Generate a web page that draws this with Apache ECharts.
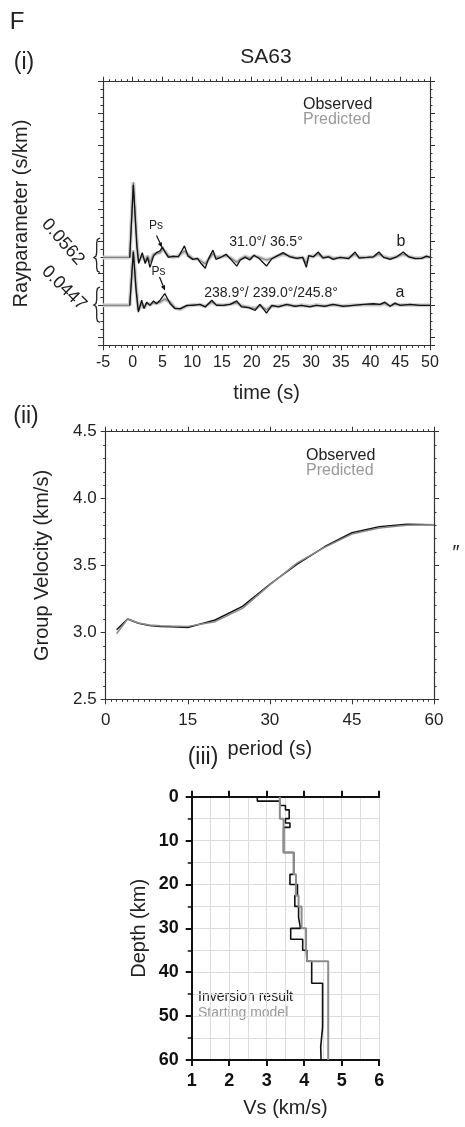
<!DOCTYPE html>
<html>
<head>
<meta charset="utf-8">
<script src="https://cdn.jsdelivr.net/npm/echarts@6/dist/echarts.min.js"></script>
<style>
  html, body { margin: 0; padding: 0; background: #fff; }
  #chart { width: 465px; height: 1127px; }
</style>
</head>
<body>
<div id="chart"></div>
<script>
// ---- (i) receiver functions, amplitude in axis units (1 unit = one major tick)
const tB = [-5, -0.5, 0.1, 0.7, 1.0, 1.6, 2.1, 2.5, 2.9, 3.5, 4.0, 4.6, 5.0, 5.4, 6.0, 6.8, 7.7, 8.7, 9.3, 10.1, 10.9, 11.5, 12.2, 12.7, 13.5, 14.0, 14.8, 15.7, 16.5, 17.5, 18.1, 18.9, 19.7, 20.4, 21.3, 22.5, 23.4, 24.2, 25.3, 26.4, 27.6, 28.6, 29.2, 29.6, 30.4, 31.2, 32.0, 32.9, 33.7, 34.9, 36.3, 37.4, 38.1, 39.4, 40.5, 41.4, 42.2, 43.3, 44.4, 45.5, 46.4, 47.5, 48.6, 49.4, 50];
const obsB = [null, 0, 2.27, 0.33, -0.19, 0.15, -0.19, 0, -0.31, 0.04, 0.15, 0.21, 0.33, 0.18, 0, 0.04, 0.02, 0.36, 0.04, -0.06, -0.03, -0.19, -0.34, -0.06, 0.23, -0.06, 0, 0.1, -0.06, -0.27, -0.08, 0, -0.08, 0.07, -0.04, -0.27, -0.04, 0.04, 0.15, 0.02, -0.03, 0, -0.31, 0.06, 0.02, 0.17, -0.02, 0.02, -0.06, 0, -0.04, 0.17, -0.02, 0, 0.02, 0.17, 0, -0.06, 0.02, 0.17, 0.02, -0.04, -0.03, 0.04, 0];
const predB = [0, 0, 2.35, 0.45, -0.12, 0.05, -0.1, 0.05, -0.15, 0.1, 0.12, 0.15, 0.25, 0.2, 0.05, 0, 0.05, 0.2, 0.08, -0.04, -0.05, -0.12, -0.2, -0.08, 0.12, 0, 0.02, 0.06, -0.02, -0.15, -0.05, 0.03, -0.03, 0.05, 0, -0.08, -0.03, 0.03, 0.1, 0.04, -0.02, 0, -0.18, 0.04, 0.03, 0.1, 0, 0.03, -0.03, 0, -0.02, 0.1, 0, 0, 0.02, 0.1, 0.02, -0.03, 0.02, 0.1, 0.03, -0.02, -0.02, 0.02, 0.02];

const tA = [-5, -0.5, 0.1, 0.56, 0.95, 1.5, 1.9, 2.35, 2.9, 3.5, 4.0, 4.6, 5.4, 6.3, 7.1, 8.0, 9.1, 10.2, 11.3, 12.2, 13.3, 14.1, 15.2, 16.4, 17.5, 18.3, 19.5, 20.6, 21.4, 22.5, 23.4, 24.5, 25.9, 27.3, 28.4, 29.8, 30.9, 32.3, 33.7, 35.4, 37.1, 38.8, 40.5, 41.6, 42.4, 43.3, 44.1, 45.0, 46.6, 48.3, 50];
const obsA = [null, 0, 1.67, 0.47, -0.21, 0.16, -0.1, 0.1, 0, 0.14, 0.05, 0.16, 0.37, 0.05, -0.1, -0.1, 0, 0, 0.03, -0.05, 0.16, 0, 0, 0.03, 0.14, -0.05, -0.07, -0.16, 0.03, -0.24, 0, -0.05, 0.03, -0.03, 0, -0.05, 0, -0.03, 0.03, -0.03, 0, 0.03, 0.05, 0.03, 0.1, -0.03, 0.07, 0, 0.03, 0, 0];
const predA = [0, 0, 1.72, 0.6, -0.15, 0.05, -0.08, 0.06, 0.02, 0.08, 0.06, 0.1, 0.2, 0.1, -0.08, -0.12, -0.02, 0.02, 0.02, -0.03, 0.1, 0.02, 0, 0.04, 0.08, -0.02, -0.06, -0.1, 0, -0.14, -0.02, -0.03, 0.02, -0.02, 0, -0.03, 0.01, -0.02, 0.02, -0.02, 0, 0.02, 0.03, 0.02, 0.06, -0.02, 0.04, 0.01, 0.02, 0, 0];
const baseB = 5.5, baseA = 7;   // trace baselines on the (inverted) y axis

// ---- (ii) group velocity dispersion
const periods = [2, 4, 6, 8, 10, 12, 15, 20, 25, 30, 35, 40, 45, 50, 55, 60];
const obsVel = [3.02, 3.10, 3.068, 3.052, 3.045, 3.042, 3.036, 3.093, 3.195, 3.36, 3.51, 3.64, 3.745, 3.79, 3.808, 3.805];
const predVel = [2.99, 3.10, 3.07, 3.055, 3.05, 3.047, 3.045, 3.08, 3.18, 3.355, 3.52, 3.635, 3.735, 3.78, 3.80, 3.805];

// ---- (iii) Vs models: layer boundaries (km) and layer velocities (km/s)
const invDepth = [0, 1, 2, 3, 5, 6, 7, 12.7, 17.7, 20, 22.5, 25, 27.5, 30, 32.5, 35, 37.5, 42.5, 52.5, 57, 60];
const invVs = [2.75, 3.35, 3.5, 3.6, 3.5, 3.62, 3.45, 3.72, 3.62, 3.82, 3.75, 3.85, 3.9, 3.64, 3.96, 4.07, 4.2, 4.49, 4.44, 4.45];
const startDepth = [0, 5, 12.7, 17.7, 20, 22.5, 25, 30, 35, 37.5, 60];
const startVs = [3.35, 3.45, 3.72, 3.78, 3.78, 3.85, 3.93, 4.05, 4.08, 4.64];

const FONT = '"Liberation Sans", Arial, sans-serif';

function trace(times, amps, base) {
  const out = [];
  times.forEach((t, i) => { if (amps[i] != null) out.push([t, base - amps[i]]); });
  return out;
}
function steps(depth, vs) {
  const out = [];
  vs.forEach((v, i) => { out.push([v, depth[i]]); out.push([v, depth[i + 1]]); });
  return out;
}

function boxAxis(extra) {
  return Object.assign({
    axisLine: { show: true, onZero: false, lineStyle: { color: '#333', width: 1.2 } },
    axisTick: { show: true, inside: false, length: 5, lineStyle: { color: '#333', width: 1 } },
    minorTick: { show: true, length: 2.5, lineStyle: { color: '#333', width: 1 } },
    splitLine: { show: false },
    axisLabel: { show: false },
  }, extra);
}

let chart = echarts.init(document.getElementById('chart'));

let option = {
  animation: false,
  backgroundColor: '#fff',
  textStyle: { fontFamily: FONT },
  grid: [
    { left: 103, top: 81.7, width: 327, height: 263.6, outerBoundsMode: 'none' },
    { left: 105.7, top: 431.7, width: 328.3, height: 267.6, outerBoundsMode: 'none' },
    { left: 191.7, top: 796.7, width: 187.5, height: 263.3, outerBoundsMode: 'none' },
  ],
  xAxis: [
    boxAxis({
      gridIndex: 0, type: 'value', position: 'bottom', min: -5, max: 50, interval: 5,
      minorTick: { show: true, splitNumber: 5, length: 2.5, lineStyle: { color: '#333' } },
      axisLabel: { show: true, fontSize: 16, color: '#222', margin: 9, fontFamily: FONT },
      name: 'time (s)', nameLocation: 'middle', nameGap: 38,
      nameTextStyle: { fontSize: 20, color: '#222', fontFamily: FONT },
    }),
    boxAxis({
      gridIndex: 0, type: 'value', position: 'top', min: -5, max: 50, interval: 5,
      minorTick: { show: true, splitNumber: 5, length: 2.5, lineStyle: { color: '#333' } },
    }),
    boxAxis({
      gridIndex: 1, type: 'value', position: 'bottom', min: 0, max: 60, interval: 15,
      minorTick: { show: true, splitNumber: 15, length: 2.5, lineStyle: { color: '#333' } },
      axisLabel: { show: true, fontSize: 17, color: '#222', margin: 13, fontFamily: FONT },
      name: 'period (s)', nameLocation: 'middle', nameGap: 40,
      nameTextStyle: { fontSize: 20, color: '#222', fontFamily: FONT },
    }),
    boxAxis({
      gridIndex: 1, type: 'value', position: 'top', min: 0, max: 60, interval: 15,
      minorTick: { show: true, splitNumber: 15, length: 2.5, lineStyle: { color: '#333' } },
    }),
    {
      gridIndex: 2, type: 'value', position: 'bottom', min: 1, max: 6, interval: 1,
      axisLine: { show: true, onZero: false, lineStyle: { color: '#111', width: 2 } },
      axisTick: { show: true, inside: false, length: 6, lineStyle: { color: '#111', width: 2 } },
      minorTick: { show: false, splitNumber: 2 },
      splitLine: { show: true, lineStyle: { color: '#dcdcdc', width: 1 } },
      minorSplitLine: { show: true, lineStyle: { color: '#dcdcdc', width: 1 } },
      axisLabel: { show: true, fontSize: 18, fontWeight: 'bold', color: '#111', margin: 12, fontFamily: FONT },
      name: 'Vs (km/s)', nameLocation: 'middle', nameGap: 38,
      nameTextStyle: { fontSize: 20, color: '#222', fontFamily: FONT },
    },
    {
      gridIndex: 2, type: 'value', position: 'top', min: 1, max: 6, interval: 1,
      axisLine: { show: true, onZero: false, lineStyle: { color: '#111', width: 2 } },
      axisTick: { show: true, inside: false, length: 6, lineStyle: { color: '#111', width: 2 } },
      axisLabel: { show: false },
      splitLine: { show: false },
    },
  ],
  yAxis: [
    boxAxis({
      gridIndex: 0, type: 'value', position: 'left', inverse: true, min: 0, max: 8.25, interval: 1,
      minorTick: { show: true, splitNumber: 4, length: 2.5, lineStyle: { color: '#333' } },
      name: 'Rayparameter (s/km)', nameLocation: 'middle', nameGap: 72,
      nameTextStyle: { fontSize: 20, color: '#222', fontFamily: FONT },
    }),
    boxAxis({
      gridIndex: 0, type: 'value', position: 'right', inverse: true, min: 0, max: 8.25, interval: 1,
      minorTick: { show: true, splitNumber: 4, length: 2.5, lineStyle: { color: '#333' } },
    }),
    boxAxis({
      gridIndex: 1, type: 'value', position: 'left', min: 2.5, max: 4.5, interval: 0.5,
      minorTick: { show: true, splitNumber: 5, length: 2.5, lineStyle: { color: '#333' } },
      axisLabel: { show: true, fontSize: 17, color: '#222', margin: 9, fontFamily: FONT,
        formatter: (v) => v.toFixed(1) },
      name: 'Group Velocity (km/s)', nameLocation: 'middle', nameGap: 53,
      nameTextStyle: { fontSize: 20, color: '#222', fontFamily: FONT },
    }),
    boxAxis({
      gridIndex: 1, type: 'value', position: 'right', min: 2.5, max: 4.5, interval: 0.5,
      minorTick: { show: true, splitNumber: 5, length: 2.5, lineStyle: { color: '#333' } },
    }),
    {
      gridIndex: 2, type: 'value', position: 'left', inverse: true, min: 0, max: 60, interval: 10,
      axisLine: { show: true, onZero: false, lineStyle: { color: '#111', width: 2 } },
      axisTick: { show: true, inside: false, length: 6, lineStyle: { color: '#111', width: 2 } },
      minorTick: { show: true, splitNumber: 2, length: 4, lineStyle: { color: '#111', width: 1.5 } },
      splitLine: { show: true, lineStyle: { color: '#dcdcdc', width: 1 } },
      minorSplitLine: { show: true, lineStyle: { color: '#dcdcdc', width: 1 } },
      axisLabel: { show: true, fontSize: 18, fontWeight: 'bold', color: '#111', margin: 13, fontFamily: FONT },
      name: 'Depth (km)', nameLocation: 'middle', nameGap: 42,
      nameTextStyle: { fontSize: 20, color: '#222', fontFamily: FONT },
    },
  ],
  series: [
    // uncertainty band of predicted traces
    { type: 'line', xAxisIndex: 0, yAxisIndex: 0, showSymbol: false, silent: true,
      data: trace(tB, predB, baseB), lineStyle: { color: '#d2d2d2', width: 4 } },
    { type: 'line', xAxisIndex: 0, yAxisIndex: 0, showSymbol: false, silent: true,
      data: trace(tA, predA, baseA), lineStyle: { color: '#d2d2d2', width: 4 } },
    { name: 'Predicted', type: 'line', xAxisIndex: 0, yAxisIndex: 0, showSymbol: false,
      data: trace(tB, predB, baseB), lineStyle: { color: '#858585', width: 1.3 } },
    { name: 'Predicted', type: 'line', xAxisIndex: 0, yAxisIndex: 0, showSymbol: false,
      data: trace(tA, predA, baseA), lineStyle: { color: '#858585', width: 1.3 } },
    { name: 'Observed', type: 'line', xAxisIndex: 0, yAxisIndex: 0, showSymbol: false,
      data: trace(tB, obsB, baseB), lineStyle: { color: '#111', width: 1.3 } },
    { name: 'Observed', type: 'line', xAxisIndex: 0, yAxisIndex: 0, showSymbol: false,
      data: trace(tA, obsA, baseA), lineStyle: { color: '#111', width: 1.3 } },

    { name: 'Observed', type: 'line', xAxisIndex: 2, yAxisIndex: 2, showSymbol: false,
      data: periods.map((p, i) => [p, obsVel[i]]), lineStyle: { color: '#111', width: 1.5 } },
    { name: 'Predicted', type: 'line', xAxisIndex: 2, yAxisIndex: 2, showSymbol: false,
      data: periods.map((p, i) => [p, predVel[i]]), lineStyle: { color: '#8a8a8a', width: 1.5 } },

    { name: 'Inversion result', type: 'line', xAxisIndex: 4, yAxisIndex: 4, showSymbol: false,
      data: steps(invDepth, invVs), lineStyle: { color: '#111', width: 1.6 } },
    { name: 'Starting model', type: 'line', xAxisIndex: 4, yAxisIndex: 4, showSymbol: false,
      data: steps(startDepth, startVs), lineStyle: { color: '#8c8c8c', width: 2 } },
  ],
  graphic: {
    elements: [
      { type: 'text', style: { x: 17, y: 22, text: 'F', font: '24px ' + FONT, fill: '#222', textAlign: 'center', textVerticalAlign: 'middle' } },
      { type: 'text', style: { x: 24, y: 63, text: '(i)', font: '23px ' + FONT, fill: '#222', textAlign: 'center', textVerticalAlign: 'middle' } },
      { type: 'text', style: { x: 266, y: 57, text: 'SA63', font: '21px ' + FONT, fill: '#222', textAlign: 'center', textVerticalAlign: 'middle' } },
      { type: 'text', style: { x: 303, y: 105, text: 'Observed', font: '16px ' + FONT, fill: '#222', textAlign: 'left', textVerticalAlign: 'middle' } },
      { type: 'text', style: { x: 303, y: 120, text: 'Predicted', font: '16px ' + FONT, fill: '#999', textAlign: 'left', textVerticalAlign: 'middle' } },
      { type: 'text', style: { x: 266, y: 242, text: '31.0°/ 36.5°', font: '14px ' + FONT, fill: '#222', textAlign: 'center', textVerticalAlign: 'middle' } },
      { type: 'text', style: { x: 271, y: 293, text: '238.9°/ 239.0°/245.8°', font: '14px ' + FONT, fill: '#222', textAlign: 'center', textVerticalAlign: 'middle' } },
      { type: 'text', style: { x: 401, y: 242, text: 'b', font: '16px ' + FONT, fill: '#222', textAlign: 'center', textVerticalAlign: 'middle' } },
      { type: 'text', style: { x: 400, y: 293, text: 'a', font: '16px ' + FONT, fill: '#222', textAlign: 'center', textVerticalAlign: 'middle' } },
      { type: 'text', style: { x: 156, y: 226, text: 'Ps', font: '12px ' + FONT, fill: '#222', textAlign: 'center', textVerticalAlign: 'middle' } },
      { type: 'text', style: { x: 158.5, y: 271.5, text: 'Ps', font: '12px ' + FONT, fill: '#222', textAlign: 'center', textVerticalAlign: 'middle' } },
      { type: 'line', shape: { x1: 156.5, y1: 235.5, x2: 160.5, y2: 244 }, style: { stroke: '#111', lineWidth: 1.2 } },
      { type: 'polygon', shape: { points: [[162, 247.5], [157.9, 243.9], [161.8, 242.0]] }, style: { fill: '#111' } },
      { type: 'line', shape: { x1: 159.5, y1: 277, x2: 163.4, y2: 286.5 }, style: { stroke: '#111', lineWidth: 1.2 } },
      { type: 'polygon', shape: { points: [[165, 290.5], [161.0, 286.7], [165.1, 285.0]] }, style: { fill: '#111' } },
      { type: 'text', rotation: -0.85, x: 63, y: 242, style: { x: 0, y: 0, text: '0.0562', font: '18px ' + FONT, fill: '#222', textAlign: 'center', textVerticalAlign: 'middle' } },
      { type: 'text', rotation: -0.78, x: 64, y: 288, style: { x: 0, y: 0, text: '0.0447', font: '18px ' + FONT, fill: '#222', textAlign: 'center', textVerticalAlign: 'middle' } },
      { type: 'polyline', shape: { points: [[100, 238], [97.4, 239.5], [96.7, 243], [96.7, 252.5], [96, 256], [93.8, 257.5], [96, 259], [96.7, 262.5], [96.7, 268], [97.4, 271], [100, 272.5]] }, style: { stroke: '#222', lineWidth: 1.3, fill: null } },
      { type: 'polyline', shape: { points: [[100, 287], [97.4, 288.5], [96.7, 292], [96.7, 300], [96, 303.5], [93.8, 305], [96, 306.5], [96.7, 310], [96.7, 318], [97.4, 321], [100, 322.5]] }, style: { stroke: '#222', lineWidth: 1.3, fill: null } },

      { type: 'text', style: { x: 26, y: 417, text: '(ii)', font: '23px ' + FONT, fill: '#222', textAlign: 'center', textVerticalAlign: 'middle' } },
      { type: 'text', style: { x: 306, y: 456, text: 'Observed', font: '16px ' + FONT, fill: '#222', textAlign: 'left', textVerticalAlign: 'middle' } },
      { type: 'text', style: { x: 306, y: 471, text: 'Predicted', font: '16px ' + FONT, fill: '#999', textAlign: 'left', textVerticalAlign: 'middle' } },
      { type: 'text', style: { x: 455, y: 553, text: '″', font: 'italic 20px ' + FONT, fill: '#222', textAlign: 'center', textVerticalAlign: 'middle' } },

      { type: 'text', style: { x: 203, y: 758, text: '(iii)', font: '23px ' + FONT, fill: '#222', textAlign: 'center', textVerticalAlign: 'middle' } },
      { type: 'text', style: { x: 198, y: 997, text: 'Inversion result', font: '14px ' + FONT, fill: '#222', textAlign: 'left', textVerticalAlign: 'middle' } },
      { type: 'text', style: { x: 198, y: 1013, text: 'Starting model', font: '14px ' + FONT, fill: '#999', textAlign: 'left', textVerticalAlign: 'middle' } },
    ],
  },
};

chart.setOption(option);
</script>
</body>
</html>
